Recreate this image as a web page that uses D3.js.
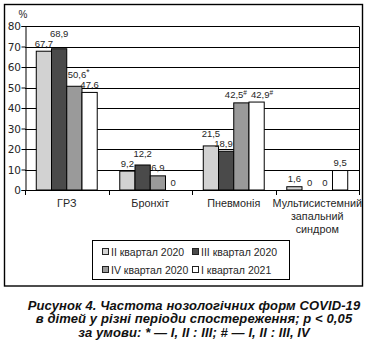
<!DOCTYPE html>
<html><head><meta charset="utf-8">
<script src="https://cdn.jsdelivr.net/npm/d3@7"></script>
<style>body{margin:0;background:#fff}svg{display:block}</style>
</head><body>
<script>
const categories = ["ГРЗ", "Бронхіт", "Пневмонія", "Мультисистемний запальний синдром"];
const seriesNames = ["II квартал 2020", "III квартал 2020", "IV квартал 2020", "I квартал 2021"];
const q2_2020 = [67.7, 9.2, 21.5, 1.6];
const q3_2020 = [68.9, 12.2, 18.9, 0];
const q4_2020 = [50.6, 6.9, 42.5, 0];
const q1_2021 = [47.6, 0, 42.9, 9.5];
const q2_2020_marks = ["", "", "", ""];
const q3_2020_marks = ["", "", "", ""];
const q4_2020_marks = ["*", "", "#", ""];
const q1_2021_marks = ["", "", "#", ""];
const yTicks = [0, 10, 20, 30, 40, 50, 60, 70, 80];
const yUnit = "%";
const captionLines = [
  "Рисунок 4. Частота нозологічних форм COVID-19",
  "в дітей у різні періоди спостереження; p < 0,05",
  "за умови: * — I, II : III; # — I, II : III, IV"
];

const seriesValues = [q2_2020, q3_2020, q4_2020, q1_2021];
const seriesMarks = [q2_2020_marks, q3_2020_marks, q4_2020_marks, q1_2021_marks];
const colors = ["#d2d2d2", "#4a4a4a", "#9a9a9a", "#ffffff"];
const FONT = "'Liberation Sans', Arial, sans-serif";
const TICKFONT = "'DejaVu Sans', sans-serif";
const TXT = "#262626";

const W = 367, H = 342;
const svg = d3.select("body").append("svg").attr("width", W).attr("height", H)
  .style("font-family", FONT);

// outer frame
svg.append("rect").attr("x", 4.5).attr("y", 4.5).attr("width", 358).attr("height", 281.5)
  .attr("fill", "none").attr("stroke", "#000").attr("stroke-width", 1.4);

const plot = {l: 25, r: 359, t: 26, b: 190};
const y = d3.scaleLinear().domain([0, 80]).range([plot.b, plot.t]);
const x0 = d3.scaleBand().domain(categories).range([plot.l, plot.r]);
const bw = x0.bandwidth();
const x1 = d3.scaleBand().domain(seriesNames).range([bw * 0.135, bw * 0.865]);

// gridlines
svg.append("g").selectAll("line").data(yTicks.filter(d => d > 0)).join("line")
  .attr("x1", plot.l).attr("x2", plot.r)
  .attr("y1", d => Math.round(y(d)) + 0.5).attr("y2", d => Math.round(y(d)) + 0.5)
  .attr("stroke", "#000").attr("stroke-width", 1);
svg.append("line").attr("x1", plot.r + 0.5).attr("x2", plot.r + 0.5)
  .attr("y1", Math.round(y(80)) + 0.5).attr("y2", Math.round(y(0)) + 0.5)
  .attr("stroke", "#000");

// bars
const groups = svg.append("g").selectAll("g").data(categories).join("g")
  .attr("transform", d => `translate(${x0(d)},0)`);
groups.selectAll("rect").data((c, ci) => seriesNames.map((s, si) => ({s, si, ci, v: seriesValues[si][ci]})))
  .join("rect")
  .filter(d => d.v > 0)
  .attr("x", d => x1(d.s)).attr("width", x1.bandwidth())
  .attr("y", d => y(d.v)).attr("height", d => y(0) - y(d.v))
  .attr("fill", d => colors[d.si]).attr("stroke", "#000").attr("stroke-width", 1);

// y axis
const yAxis = svg.append("g").attr("transform", `translate(${plot.l + 0.5},0)`)
  .call(d3.axisLeft(y).tickValues(yTicks).tickSize(4).tickFormat(d3.format("d")));
yAxis.select(".domain").attr("stroke", "#000");
yAxis.selectAll(".tick line").attr("stroke", "#000");
yAxis.selectAll(".tick text").attr("font-size", 10.5).attr("font-family", TICKFONT)
  .attr("fill", TXT).attr("x", -4.5).attr("dy", "0.36em");
svg.append("text").attr("x", 23).attr("y", 18).attr("text-anchor", "middle")
  .attr("font-size", 10).attr("fill", TXT).text(yUnit);

// x axis
svg.append("line").attr("x1", plot.l).attr("x2", plot.r)
  .attr("y1", Math.round(y(0)) + 0.5).attr("y2", Math.round(y(0)) + 0.5).attr("stroke", "#000");
const bounds = categories.map(c => x0(c)).concat([plot.r]);
svg.append("g").selectAll("line").data(bounds).join("line")
  .attr("x1", d => Math.round(d) + 0.5).attr("x2", d => Math.round(d) + 0.5)
  .attr("y1", Math.round(y(0))).attr("y2", Math.round(y(0)) + 5).attr("stroke", "#000");

const catText = svg.append("g").selectAll("text").data(categories).join("text")
  .attr("text-anchor", "middle").attr("font-size", 10.8).attr("fill", TXT)
  .attr("transform", d => `translate(${x0(d) + bw / 2},${y(0) + 17})`);
catText.each(function(d) {
  const t = d3.select(this);
  t.text(d);
  if (this.getComputedTextLength() > bw) {
    t.text(null);
    d.split(" ").forEach((w, i) => t.append("tspan").attr("x", 0).attr("dy", i ? 13.2 : 0).text(w));
  }
});

// value labels with simple collision handling
const fmt = v => v === 0 ? "0" : v.toFixed(1).replace(".", ",");
const labelG = svg.append("g").attr("font-size", 9.5).attr("fill", TXT);
categories.forEach((c, ci) => {
  const labs = seriesNames.map((s, si) => {
    const v = seriesValues[si][ci];
    const t = labelG.append("text").attr("text-anchor", "middle");
    t.append("tspan").text(fmt(v));
    const m = seriesMarks[si][ci];
    if (m) t.append("tspan").attr("font-size", m === "#" ? 6.5 : 8.5).attr("dy", -3).text(m);
    const w = t.node().getComputedTextLength();
    const bx0 = x0(c) + x1(s), bx1 = bx0 + x1.bandwidth();
    return {t, v, w, bx0, bx1, cx: (bx0 + bx1) / 2, by: y(v) - 4.5};
  });
  // keep labels clear of taller neighbouring bars
  labs.forEach((l, i) => {
    const L = labs[i - 1], R = labs[i + 1];
    if (L && L.v > l.v && y(L.v) < l.by - 2 && l.cx - l.w / 2 < L.bx1 + 1) l.cx = L.bx1 + 1 + l.w / 2;
    else if (R && R.v > l.v && y(R.v) < l.by - 2 && l.cx + l.w / 2 > R.bx0 - 1) l.cx = R.bx0 - 1 - l.w / 2;
  });
  for (let i = 1; i < labs.length; i++) {
    const a = labs[i - 1], b = labs[i];
    const hOver = Math.abs(b.cx - a.cx) < (a.w + b.w) / 2 + 1;
    const dy = Math.abs(a.by - b.by);
    if (!hOver || dy >= 10) continue;
    if (dy < 1.5) {
      const mid = (a.cx + b.cx) / 2;
      a.cx = mid - 2 - a.w / 2;
      b.cx = mid + 2 + b.w / 2;
    } else if (b.v > a.v) {
      b.by = a.by - 10;
    } else {
      a.by = b.by - 10;
    }
  }
  labs.forEach(l => l.t.attr("x", l.cx).attr("y", l.by));
});

// legend
const lg = svg.append("g");
lg.append("rect").attr("x", 92.5).attr("y", 240.5).attr("width", 197).attr("height", 39)
  .attr("fill", "#fff").attr("stroke", "#000").attr("stroke-width", 1);
const legPos = [[102, 252], [192, 252], [102, 270], [192, 270]];
seriesNames.forEach((s, i) => {
  const [lx, ly] = legPos[i];
  lg.append("rect").attr("x", lx + 0.5).attr("y", ly - 3.5).attr("width", 6).attr("height", 6)
    .attr("fill", colors[i]).attr("stroke", "#222").attr("stroke-width", 1);
  lg.append("text").attr("x", lx + 9).attr("y", ly + 4).attr("font-size", 10.5)
    .attr("fill", TXT).text(s);
});

// caption
svg.append("g").selectAll("text").data(captionLines).join("text")
  .attr("x", 194).attr("y", (d, i) => 309.5 + i * 13.5)
  .attr("text-anchor", "middle").attr("font-size", 13).attr("letter-spacing", 0.1)
  .attr("font-weight", "bold").attr("font-style", "italic").attr("fill", "#111")
  .text(d => d);
</script>
</body></html>
